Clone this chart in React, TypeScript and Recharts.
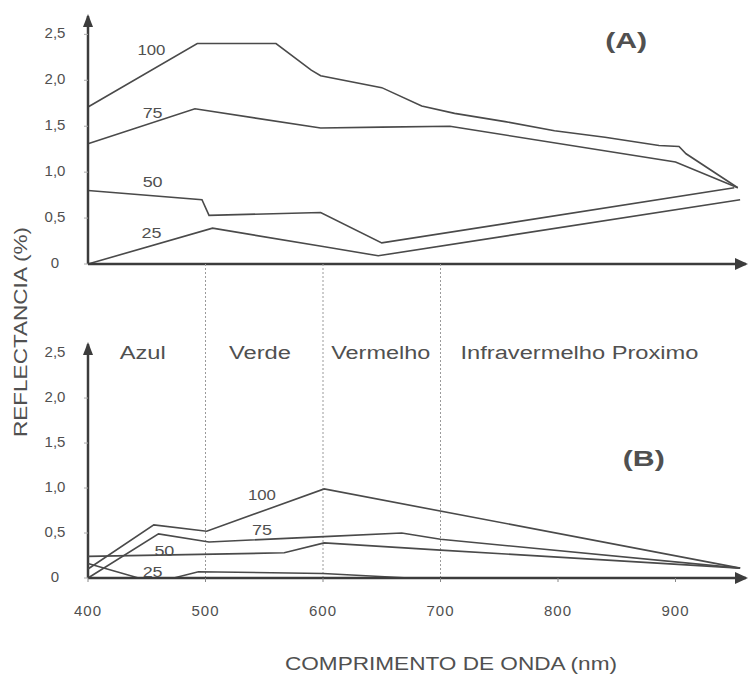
import React from 'react'
import { LineChart, Line, XAxis, YAxis, ReferenceLine, ReferenceDot } from 'recharts'

type Pt = [number, number]

// painel (A): comprimento de onda (nm) x reflectancia (%)
const a100: Pt[] = [[400, 1.71], [493, 2.4], [560, 2.4], [590, 2.11], [598, 2.05], [650, 1.92], [684, 1.72], [712, 1.64], [755, 1.55], [797, 1.45], [840, 1.38], [886, 1.29], [903, 1.28], [909, 1.2], [953, 0.83]]
const a75: Pt[] = [[400, 1.31], [491, 1.69], [598, 1.48], [650, 1.49], [708, 1.5], [900, 1.11], [953, 0.83]]
const a50: Pt[] = [[400, 0.8], [497, 0.7], [503, 0.53], [598, 0.56], [650, 0.23], [950, 0.83]]
const a25: Pt[] = [[400, 0], [506, 0.39], [600, 0.19], [647, 0.09], [955, 0.7]]

// painel (B)
const b100: Pt[] = [[400, 0.1], [456, 0.59], [501, 0.52], [601, 0.99], [955, 0.11]]
const b75: Pt[] = [[400, 0], [460, 0.49], [503, 0.4], [601, 0.46], [667, 0.5], [700, 0.43], [955, 0.11]]
const b50: Pt[] = [[400, 0.24], [567, 0.28], [601, 0.39], [700, 0.31], [955, 0.11]]
const b25: Pt[] = [[400, 0.16], [443, 0], [473, 0], [494, 0.07], [600, 0.05], [673, 0], [955, 0]]

const xTicks = [400, 500, 600, 700, 800, 900]
const yTicks = [0, 0.5, 1, 1.5, 2, 2.5]
const bandEdges = [500, 600, 700]
const bandNames = ['Azul', 'Verde', 'Vermelho', 'Infravermelho Proximo']

const FONT = '"Liberation Sans", Arial, sans-serif'
const INK = '#505050'
const AXIS = '#3c3c3c'
const X_DOMAIN: [number, number] = [400, 960]

const rows = (pts: Pt[]) => pts.map(([nm, r]) => ({ nm, r }))
const fmt = (v: number) => (v === 0 ? '0' : v.toFixed(1).replace('.', ','))

// layout of the free text (nm, reflectancia, largura em px)
const bandPos = [[427, 2.43, 46], [520, 2.43, 62], [607, 2.43, 99], [717, 2.43, 238]]
const labelsA = [['100', 454, 2.27], ['75', 455, 1.59], ['50', 455, 0.84], ['25', 454, 0.28]]
const labelsB = [['100', 548, 0.87], ['75', 548, 0.48], ['50', 465, 0.24], ['25', 455, 0.01]]

const textShape = (t: string, w: number, size: number, anchor = 'middle', bold = false) => (p: any) => (
  <text x={p.cx} y={p.cy} textAnchor={anchor} fontSize={size} fontWeight={bold ? 700 : 400}
    fill={INK} fontFamily={FONT} textLength={w} lengthAdjust="spacingAndGlyphs">{t}</text>
)

const arrowRight = (p: any) => (
  <polygon points={`${p.cx + 2},${p.cy} ${p.cx - 11},${p.cy - 6} ${p.cx - 11},${p.cy + 6}`} fill={AXIS} />
)
const arrowUp = (p: any) => (
  <polygon points={`${p.cx},${p.cy - 2} ${p.cx - 5},${p.cy + 11} ${p.cx + 5},${p.cy + 11}`} fill={AXIS} />
)

const YTick = (p: any) => (
  <text x={p.x - 13} y={p.y + 4} textAnchor="middle" fontSize={15} fill={INK} fontFamily={FONT}>
    {fmt(p.payload.value)}
  </text>
)
const XTick = (p: any) => (
  <text x={p.x} y={p.y + 32} textAnchor="middle" fontSize={15} fill={INK} fontFamily={FONT} letterSpacing={1}>
    {p.payload.value}
  </text>
)

const lineProps = { dataKey: 'r', type: 'linear' as const, dot: false, stroke: '#4a4a4a', strokeWidth: 1.6, isAnimationActive: false }

export default function App() {
  return (
    <div style={{ position: 'absolute', left: 0, top: 0, width: 749, height: 677, background: '#fff', overflow: 'hidden' }}>
      {/* (A) */}
      <div style={{ position: 'absolute', left: 0, top: 0 }}>
        <LineChart width={749} height={290} margin={{ top: 16, right: 3, bottom: 16, left: 0 }}>
          <XAxis type="number" dataKey="nm" domain={X_DOMAIN} ticks={xTicks.slice(1)} tick={false}
            height={10} tickSize={5} axisLine={{ stroke: AXIS, strokeWidth: 2.5 }} tickLine={{ stroke: '#888' }} />
          <YAxis type="number" domain={[0, 2.7]} ticks={yTicks} width={88} tickSize={4} tickMargin={16}
            tick={<YTick />} axisLine={{ stroke: AXIS, strokeWidth: 2.5 }} tickLine={{ stroke: '#aaa' }} />
          <Line data={rows(a100)} {...lineProps} />
          <Line data={rows(a75)} {...lineProps} />
          <Line data={rows(a50)} {...lineProps} />
          <Line data={rows(a25)} {...lineProps} />
          <ReferenceDot x={960} y={0} r={0} ifOverflow="visible" shape={arrowRight} />
          <ReferenceDot x={400} y={2.7} r={0} ifOverflow="visible" shape={arrowUp} />
          {labelsA.map(([t, x, y]) => (
            <ReferenceDot key={'a' + t} x={x as number} y={y as number} r={0} ifOverflow="visible"
              shape={textShape(t as string, t === '100' ? 28 : 20, 15)} />
          ))}
          <ReferenceDot x={858} y={2.35} r={0} ifOverflow="visible" shape={textShape('(A)', 42, 22, 'middle', true)} />
        </LineChart>
      </div>

      {/* (B) */}
      <div style={{ position: 'absolute', left: 0, top: 264 }}>
        <LineChart width={749} height={413} margin={{ top: 0, right: 3, bottom: 39, left: 0 }}>
          <XAxis type="number" dataKey="nm" domain={X_DOMAIN} ticks={xTicks} tick={<XTick />}
            height={60} tickSize={4} axisLine={{ stroke: AXIS, strokeWidth: 2.5 }} tickLine={{ stroke: '#888' }} />
          <YAxis type="number" domain={[0, 3.49]} ticks={yTicks} width={88} tickSize={4} tickMargin={16}
            tick={<YTick />} axisLine={false} tickLine={{ stroke: '#aaa' }} />
          {bandEdges.map(x => (
            <ReferenceLine key={x} x={x} stroke="#9a9a9a" strokeWidth={1} strokeDasharray="2 2" />
          ))}
          <ReferenceLine segment={[{ x: 400, y: 0 }, { x: 400, y: 2.6 }]} stroke={AXIS} strokeWidth={2.5} ifOverflow="visible" />
          <Line data={rows(b100)} {...lineProps} />
          <Line data={rows(b75)} {...lineProps} />
          <Line data={rows(b50)} {...lineProps} />
          <Line data={rows(b25)} {...lineProps} />
          <ReferenceDot x={960} y={0} r={0} ifOverflow="visible" shape={arrowRight} />
          <ReferenceDot x={400} y={2.6} r={0} ifOverflow="visible" shape={arrowUp} />
          {bandNames.map((name, i) => (
            <ReferenceDot key={name} x={bandPos[i][0]} y={bandPos[i][1]} r={0} ifOverflow="visible"
              shape={textShape(name, bandPos[i][2], 18, 'start')} />
          ))}
          {labelsB.map(([t, x, y]) => (
            <ReferenceDot key={'b' + t} x={x as number} y={y as number} r={0} ifOverflow="visible"
              shape={textShape(t as string, t === '100' ? 28 : 20, 15)} />
          ))}
          <ReferenceDot x={873} y={1.24} r={0} ifOverflow="visible" shape={textShape('(B)', 42, 22, 'middle', true)} />
        </LineChart>
      </div>

      {/* axis titles */}
      <svg width={749} height={677} style={{ position: 'absolute', left: 0, top: 0, pointerEvents: 'none' }}>
        <text transform="translate(27, 332) rotate(-90)" textAnchor="middle" fontSize={19} fill={INK}
          fontFamily={FONT} textLength={210} lengthAdjust="spacingAndGlyphs">REFLECTANCIA (%)</text>
        <text x={451} y={670} textAnchor="middle" fontSize={19} fill={INK} fontFamily={FONT}
          textLength={332} lengthAdjust="spacingAndGlyphs">COMPRIMENTO DE ONDA (nm)</text>
      </svg>
    </div>
  )
}
